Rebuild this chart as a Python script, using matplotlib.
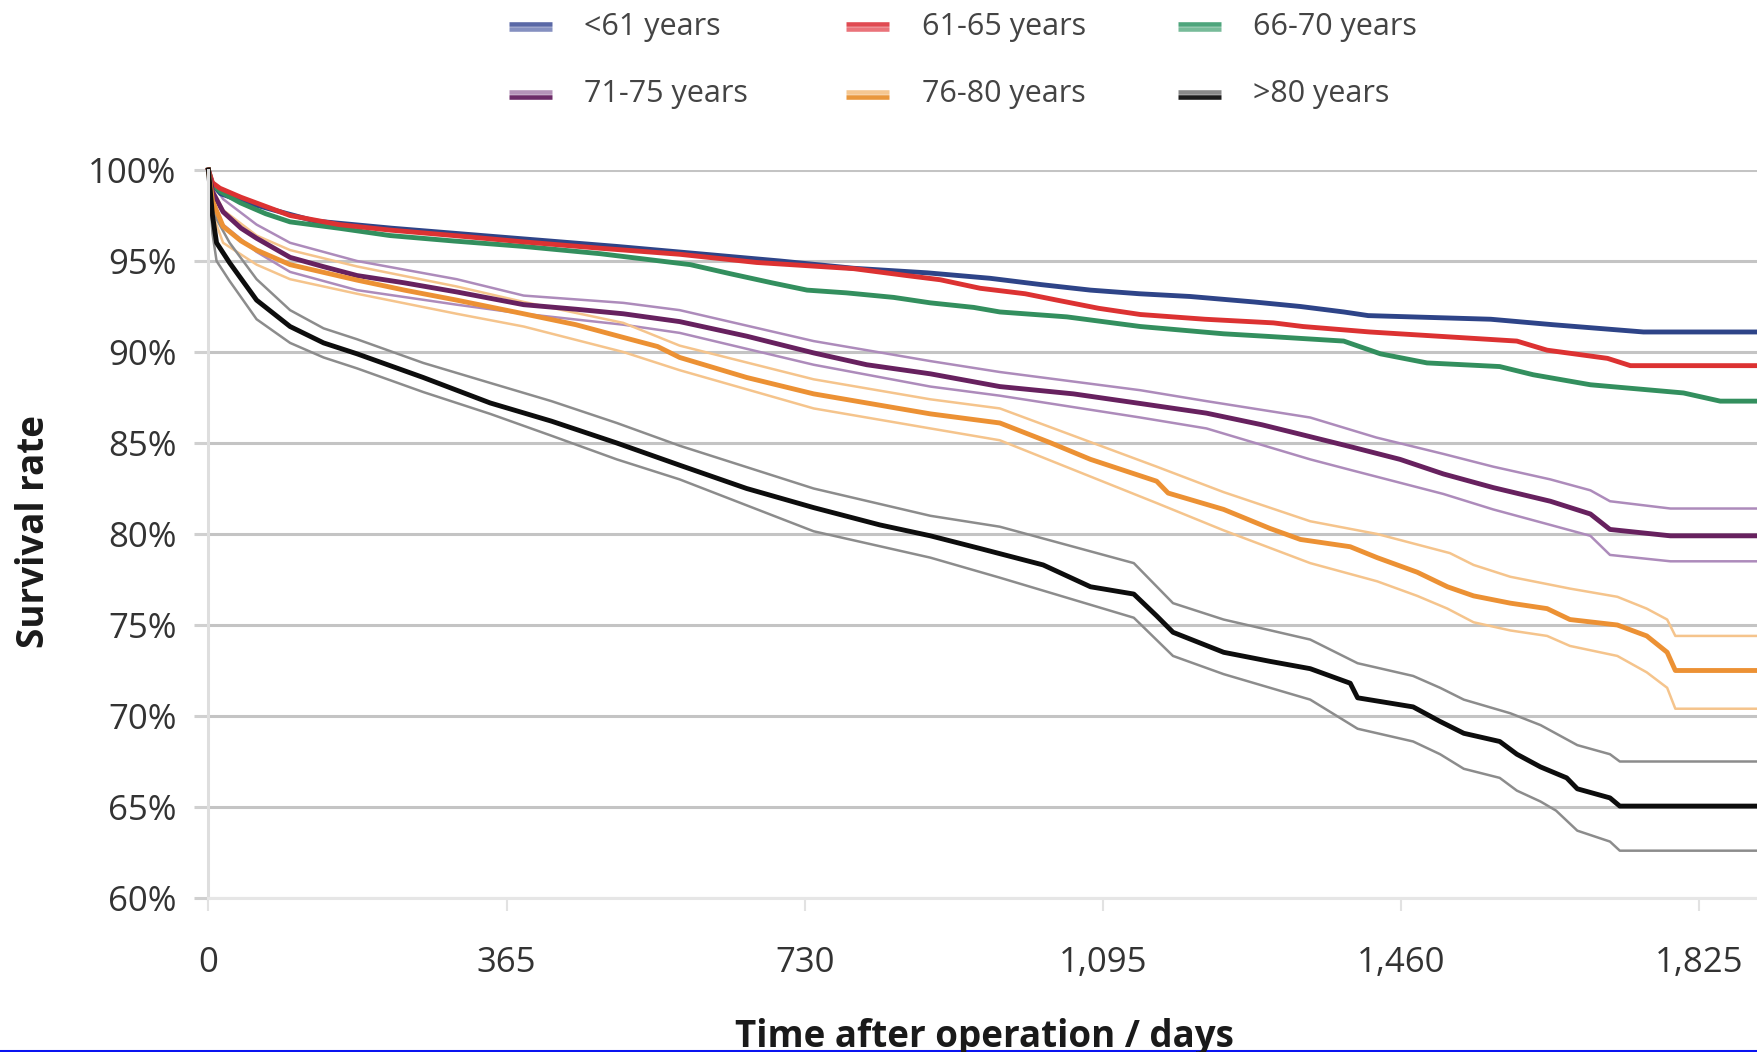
import matplotlib
matplotlib.use('Agg')
import matplotlib.pyplot as plt
from matplotlib.lines import Line2D

plt.rcParams['font.family'] = ['Open Sans', 'DejaVu Sans']

# 生存曲线数据（天数, 生存率%）
labels = ['<61 years', '61-65 years', '66-70 years', '71-75 years', '76-80 years', '>80 years']

blue_t = [0, 5, 15, 40, 80, 130, 225, 362, 500, 600, 700, 790, 880, 957, 1020, 1080, 1140, 1202, 1280, 1337, 1390, 1420, 1570, 1646, 1757, 1896]
blue_s = [100, 99.2, 98.7, 98.3, 97.8, 97.2, 96.8, 96.3, 95.8, 95.4, 95.0, 94.6, 94.35, 94.05, 93.7, 93.4, 93.2, 93.05, 92.75, 92.5, 92.2, 92.0, 91.8, 91.5, 91.1, 91.1]

red_t = [0, 5, 14, 40, 70, 100, 160, 222, 300, 386, 480, 577, 671, 790, 855, 896, 945, 1000, 1039, 1090, 1141, 1220, 1304, 1340, 1422, 1602, 1639, 1713, 1741, 1896]
red_s = [100, 99.3, 99.0, 98.5, 98.0, 97.5, 97.0, 96.7, 96.4, 96.05, 95.7, 95.37, 94.92, 94.58, 94.2, 93.97, 93.5, 93.2, 92.85, 92.4, 92.06, 91.8, 91.6, 91.4, 91.1, 90.6, 90.1, 89.65, 89.25, 89.25]

green_t = [0, 5, 15, 39, 70, 100, 160, 222, 300, 386, 480, 590, 639, 690, 733, 781, 839, 884, 937, 969, 1051, 1141, 1243, 1300, 1390, 1435, 1492, 1581, 1622, 1692, 1806, 1851, 1896]
green_s = [100, 99.2, 98.8, 98.2, 97.6, 97.15, 96.8, 96.4, 96.1, 95.8, 95.4, 94.8, 94.3, 93.8, 93.4, 93.25, 93.0, 92.7, 92.45, 92.2, 91.93, 91.4, 91.0, 90.85, 90.6, 89.9, 89.4, 89.2, 88.75, 88.2, 87.75, 87.3, 87.3]

purple_t = [0, 5, 18, 40, 59, 100, 140, 182, 240, 304, 386, 450, 508, 577, 659, 741, 806, 884, 969, 1059, 1141, 1222, 1290, 1337, 1398, 1459, 1512, 1573, 1643, 1692, 1716, 1790, 1896]
purple_s = [100, 98.8, 97.7, 96.8, 96.25, 95.2, 94.7, 94.2, 93.8, 93.3, 92.6, 92.35, 92.1, 91.67, 90.87, 89.95, 89.3, 88.8, 88.1, 87.7, 87.17, 86.64, 86.0, 85.48, 84.8, 84.1, 83.3, 82.55, 81.8, 81.1, 80.25, 79.9, 79.9]
purple_hi_t = [0, 5, 18, 59, 100, 182, 304, 386, 508, 577, 741, 884, 969, 1141, 1222, 1349, 1430, 1512, 1573, 1643, 1692, 1716, 1790, 1896]
purple_hi_s = [100, 99.3, 98.4, 97.0, 96.0, 95.0, 94.0, 93.1, 92.7, 92.3, 90.6, 89.5, 88.9, 87.9, 87.3, 86.4, 85.3, 84.4, 83.7, 83.0, 82.4, 81.8, 81.4, 81.4]
purple_lo_t = [0, 5, 18, 59, 100, 182, 304, 386, 508, 577, 741, 884, 969, 1141, 1222, 1349, 1400, 1512, 1573, 1643, 1692, 1716, 1790, 1896]
purple_lo_s = [100, 98.2, 97.0, 95.5, 94.4, 93.4, 92.6, 92.1, 91.5, 91.05, 89.3, 88.1, 87.6, 86.4, 85.8, 84.1, 83.5, 82.2, 81.35, 80.5, 79.9, 78.85, 78.5, 78.5]

orange_t = [0, 5, 18, 40, 59, 100, 182, 240, 304, 386, 450, 508, 550, 577, 659, 741, 806, 884, 969, 1030, 1080, 1161, 1175, 1243, 1300, 1337, 1398, 1431, 1480, 1517, 1549, 1594, 1639, 1667, 1725, 1761, 1786, 1796, 1896]
orange_s = [100, 98.3, 96.9, 96.1, 95.6, 94.8, 93.95, 93.4, 92.85, 92.1, 91.5, 90.8, 90.3, 89.7, 88.6, 87.7, 87.2, 86.6, 86.1, 85.03, 84.1, 82.9, 82.25, 81.35, 80.3, 79.7, 79.3, 78.7, 77.9, 77.1, 76.6, 76.2, 75.9, 75.3, 75.0, 74.4, 73.5, 72.5, 72.5]
orange_hi_t = [0, 5, 18, 59, 100, 182, 304, 386, 508, 577, 741, 884, 969, 1161, 1243, 1349, 1431, 1520, 1549, 1594, 1667, 1725, 1761, 1786, 1796, 1896]
orange_hi_s = [100, 99.0, 97.8, 96.4, 95.6, 94.7, 93.6, 92.75, 91.6, 90.35, 88.5, 87.4, 86.9, 83.7, 82.3, 80.7, 80.0, 78.95, 78.3, 77.65, 77.0, 76.55, 75.9, 75.3, 74.4, 74.4]
orange_lo_t = [0, 5, 18, 59, 100, 182, 304, 386, 508, 577, 741, 884, 969, 1161, 1243, 1349, 1431, 1480, 1517, 1549, 1594, 1639, 1667, 1725, 1761, 1786, 1796, 1896]
orange_lo_s = [100, 97.6, 96.0, 94.8, 94.0, 93.2, 92.1, 91.4, 90.0, 89.0, 86.9, 85.8, 85.15, 81.7, 80.2, 78.4, 77.4, 76.6, 75.9, 75.15, 74.7, 74.4, 73.85, 73.3, 72.4, 71.55, 70.4, 70.4]

black_t = [0, 5, 10, 26, 59, 100, 141, 182, 263, 345, 420, 500, 577, 659, 741, 822, 884, 945, 1022, 1080, 1133, 1161, 1181, 1243, 1300, 1349, 1398, 1407, 1475, 1508, 1537, 1581, 1602, 1631, 1663, 1676, 1716, 1728, 1896]
black_s = [100, 97.5, 96.0, 94.9, 92.85, 91.4, 90.5, 89.9, 88.6, 87.2, 86.2, 85.0, 83.78, 82.5, 81.45, 80.5, 79.9, 79.2, 78.3, 77.1, 76.7, 75.5, 74.6, 73.5, 73.0, 72.6, 71.8, 71.0, 70.5, 69.7, 69.05, 68.6, 67.9, 67.2, 66.6, 66.0, 65.5, 65.05, 65.05]
black_hi_t = [0, 5, 10, 26, 59, 100, 141, 182, 263, 345, 420, 500, 577, 741, 884, 969, 1133, 1181, 1243, 1349, 1407, 1475, 1508, 1537, 1594, 1631, 1676, 1716, 1728, 1896]
black_hi_s = [100, 98.5, 97.3, 96.0, 94.0, 92.3, 91.3, 90.7, 89.4, 88.3, 87.3, 86.1, 84.85, 82.5, 81.0, 80.4, 78.4, 76.2, 75.3, 74.2, 72.9, 72.2, 71.55, 70.9, 70.15, 69.5, 68.4, 67.9, 67.5, 67.5]
black_lo_t = [0, 5, 10, 26, 59, 100, 141, 182, 263, 345, 420, 500, 577, 741, 884, 969, 1133, 1181, 1243, 1349, 1407, 1475, 1508, 1537, 1581, 1602, 1631, 1650, 1676, 1716, 1728, 1896]
black_lo_s = [100, 96.5, 95.0, 93.9, 91.8, 90.5, 89.7, 89.1, 87.8, 86.6, 85.4, 84.1, 83.0, 80.15, 78.7, 77.6, 75.4, 73.3, 72.3, 70.9, 69.3, 68.6, 67.9, 67.1, 66.6, 65.9, 65.3, 64.8, 63.7, 63.1, 62.6, 62.6]

x_ticks = [0, 365, 730, 1095, 1460, 1825]
y_ticks = [60, 65, 70, 75, 80, 85, 90, 95, 100]

main_colors = ['#2e4488', '#dc3232', '#338f5e', '#67215f', '#ec9134', '#0d0d0d']
ci_colors = {'purple': '#ad8bbb', 'orange': '#f5c48c', 'black': '#8c8c8c'}
# 图例小块是上下两色
leg_top = ['#5a68a6', '#e04a52', '#4ea57c', '#b492b8', '#f5c791', '#888888']
leg_bot = ['#8590c0', '#ea737a', '#77bb99', '#6c2b68', '#e9973c', '#1b1b1b']

W, H = 1757, 1052
fig = plt.figure(figsize=(W / 100, H / 100), dpi=100)
ax = fig.add_axes([208.4 / W, 154 / H, 1 - 208.4 / W, 728 / H])

ci_w = 1.8
main_w = 3.5
ax.plot(purple_hi_t, purple_hi_s, color=ci_colors['purple'], lw=ci_w, clip_on=False)
ax.plot(purple_lo_t, purple_lo_s, color=ci_colors['purple'], lw=ci_w, clip_on=False)
ax.plot(orange_hi_t, orange_hi_s, color=ci_colors['orange'], lw=ci_w, clip_on=False)
ax.plot(orange_lo_t, orange_lo_s, color=ci_colors['orange'], lw=ci_w, clip_on=False)
ax.plot(black_hi_t, black_hi_s, color=ci_colors['black'], lw=ci_w, clip_on=False)
ax.plot(black_lo_t, black_lo_s, color=ci_colors['black'], lw=ci_w, clip_on=False)

mains = [(blue_t, blue_s), (green_t, green_s), (red_t, red_s),
         (purple_t, purple_s), (orange_t, orange_s), (black_t, black_s)]
main_order = [0, 2, 1, 3, 4, 5]
for (t, s), ci in zip(mains, main_order):
    ax.plot(t, s, color=main_colors[ci], lw=main_w, clip_on=False)

ax.set_xlim(0, 1896)
ax.set_ylim(60, 100)
ax.set_xticks(x_ticks)
ax.set_xticklabels([f'{v:,}' for v in x_ticks])
ax.set_yticks(y_ticks)
ax.set_yticklabels([f'{v}%' for v in y_ticks])
ax.grid(axis='y', color='#c4c4c4', lw=2.2)
ax.set_axisbelow(True)
for sp in ['top', 'right']:
    ax.spines[sp].set_visible(False)
ax.spines['left'].set_color('#dedede')
ax.spines['left'].set_linewidth(2.2)
ax.spines['bottom'].set_color('#e6e6e6')
ax.spines['bottom'].set_linewidth(2.2)
ax.tick_params(axis='y', length=10, width=2.2, color='#d0d0d0', pad=13,
               labelsize=25, labelcolor='#333333')
ax.tick_params(axis='x', length=9.5, width=1.5, color='#e2e2e2', pad=25,
               labelsize=25, labelcolor='#333333')

fig.text(34 / W, 1 - 532 / H, 'Survival rate', rotation=90, ha='center', va='center',
         fontsize=26.5, fontweight='bold', color='#1a1a1a')
fig.text(984 / W, 5 / H, 'Time after operation / days', ha='center', va='baseline',
         fontsize=26.5, fontweight='bold', color='#1a1a1a')

# 手动摆放图例（两行三列）
col_handle_x = [509, 846, 1178]
col_text_x = [584, 922, 1253]
row_y = [26.5, 94.5]
row_base = [35, 102]
for i, lab in enumerate(labels):
    r, c = divmod(i, 3)
    x0, x1 = col_handle_x[c] / W, (col_handle_x[c] + 43) / W
    yc = 1 - row_y[r] / H
    fig.add_artist(Line2D([x0, x1], [yc + 2.2 / H, yc + 2.2 / H], color=leg_top[i], lw=3.3,
                          solid_capstyle='butt'))
    fig.add_artist(Line2D([x0, x1], [yc - 2.2 / H, yc - 2.2 / H], color=leg_bot[i], lw=3.3,
                          solid_capstyle='butt'))
    fig.text(col_text_x[c] / W, 1 - row_base[r] / H, lab, ha='left', va='baseline',
             fontsize=22, color='#444444')

# 底部蓝线
fig.add_artist(Line2D([0, 1], [1.4 / H, 1.4 / H], color='#0a14f0', lw=2.2))

fig.savefig('out.png', dpi=100)
